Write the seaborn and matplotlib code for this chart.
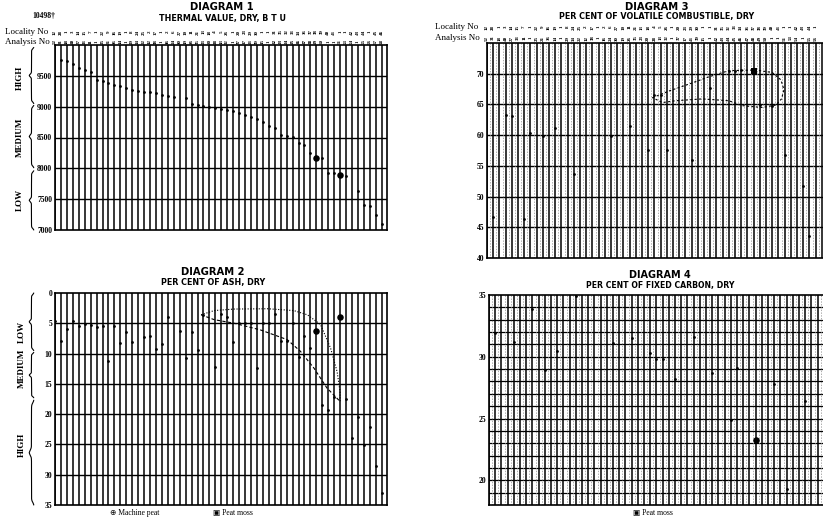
import numpy as np
import pandas as pd
import seaborn as sns
import matplotlib
matplotlib.use("Agg")
import matplotlib.pyplot as plt
from matplotlib import transforms

nan = np.nan

# one column per sample, same order in every diagram
columns = list(range(56))

thermal_btu = [10498, 9760, 9735, 9690, 9625, 9590, 9555, 9440, 9420, 9390,
               9355, 9335, 9300, 9275, 9260, 9245, 9230, 9215, 9190, 9175,
               9160, nan, 9140, 9045, 9030, 9010, 9000, 8975, 8960, 8945,
               8930, 8890, 8865, 8840, 8795, 8745, 8690, 8650, 8545, 8525,
               8515, 8410, 8380, 8245, 8175, 8175, 7925, 7920, 7900, 7870,
               nan, 7640, 7400, 7390, 7250, 7100]

ash_pct = [4.6, 7.9, 5.9, 4.6, 5.4, 5.2, 5.3, 5.6, 5.4, 11.3,
           5.4, 8.3, 6.4, 8.1, nan, 7.3, 7.1, 9.3, 8.4, 4.0,
           nan, 6.2, 10.7, 6.4, 9.4, 3.6, nan, 12.2, 3.5, 4.0,
           8.1, 5.0, 5.0, 5.0, 12.4, 5.0, 5.0, 3.5, 7.9, 7.9,
           4.9, 10.6, 7.1, 9.0, 6.2, 18.5, 19.3, 17.1, 4.0, 17.5,
           23.9, 20.5, 25.1, 22.2, 28.6, 33.0]

volatile_cols = [1, 3, 4, 6, 7, 9, 11, 14, 20, 23, 26, 27, 28, 29, 33, 36,
                 39, 40, 41, 43, 44, 46, 48, 51, 52]
volatile_pct = [46.7, 63.2, 63.1, 46.4, 60.4, 59.8, 61.2, 53.6, 59.8, 61.5,
                57.6, 66.6, 66.6, 57.6, 56.0, 67.6, 70.4, 70.5, 70.6, 70.5,
                64.9, 64.8, 56.8, 51.8, 43.6]

carbon_cols = [1, 4, 7, 9, 11, 14, 20, 23, 26, 27, 28, 30, 33, 36, 39, 40,
               43, 46, 48, 51]
carbon_pct = [31.9, 31.2, 33.9, 28.9, 30.5, 34.9, 31.1, 31.5, 30.3, 29.8,
              29.8, 28.2, 31.6, 28.7, 24.9, 29.1, 23.3, 27.8, 19.3, 26.4]

machine_peat_cols = [44, 48]
peat_moss_col_d3 = 43
peat_moss_col_d4 = 43

# hand drawn groupings (column, value)
ash_loop_upper_x = [24.6, 26.8, 30.2, 35.8, 40.2, 42.5, 44.7, 46.4, 47.5, 48.0, 48.0]
ash_loop_upper_y = [3.6, 2.9, 2.65, 2.6, 2.9, 3.6, 5.2, 9.1, 13.0, 16.3, 17.9]
ash_loop_lower_x = [24.6, 26.8, 30.2, 34.6, 39.1, 41.3, 43.6, 45.8, 47.5, 48.0]
ash_loop_lower_y = [3.6, 4.4, 5.0, 6.1, 7.7, 9.6, 12.4, 15.7, 17.4, 17.9]
vol_loop_x = [26.7, 29.4, 33.1, 35.8, 39.0, 43.3, 46.0, 47.4, 47.9, 47.5,
              46.6, 44.4, 41.2, 39.0, 34.7, 30.4, 28.3, 26.7]
vol_loop_y = [66.1, 67.2, 68.5, 69.5, 70.5, 70.6, 70.2, 69.0, 67.4, 65.9,
              64.9, 64.5, 64.8, 65.6, 65.9, 65.6, 65.3, 66.1]

locality_no = ["12", "28", "1", "3", "14", "15", "7", "1", "22", "9", "16", "19",
               "1", "8", "24", "25", "2", "17", "1", "2", "6", "27", "10", "11",
               "21", "13", "18", "4", "5", "26", "1", "20", "23", "29", "30", "1",
               "1", "31", "35", "32", "33", "34", "36", "37", "38", "39", "40", "41",
               "1", "1", "42", "43", "44", "1", "45", "46"]
analysis_no = ["52", "31", "18", "40", "27", "33", "11", "1", "25", "21", "36", "14",
               "1", "29", "34", "22", "12", "38", "1", "16", "24", "30", "19", "26",
               "35", "23", "20", "28", "13", "32", "1", "37", "17", "41", "39", "15",
               "1", "42", "43", "44", "45", "46", "47", "48", "49", "50", "1", "1",
               "51", "53", "54", "1", "55", "56", "57", "58"]

sns.set_theme(style="white")
plt.rcParams["font.family"] = ["Liberation Serif", "DejaVu Sans"]
plt.rcParams["text.color"] = "black"
plt.rcParams["ytick.color"] = "black"
plt.rcParams["xtick.color"] = "black"

W, H = 823, 521
fig = plt.figure(figsize=(W / 100, H / 100), dpi=100)


def fx(px):
    return px / W


def fy(py):
    return 1 - py / H


def make_axes(left, top, right, bottom):
    return fig.add_axes([fx(left), fy(bottom), fx(right - left), (bottom - top) / H])


def style_axes(ax, xmax, ylim, yticks, ygrid, lw_h=1.0):
    ax.set_xlim(0, xmax)
    ax.set_ylim(*ylim)
    ax.set_xticks(columns)
    ax.set_xticklabels([])
    ax.set_yticks(yticks)
    ax.set_yticklabels([str(t) for t in yticks], fontsize=5.5, fontweight="bold")
    ax.tick_params(axis="both", length=0, pad=2)
    ax.grid(False)
    for c in columns:
        ax.axvline(c, color="black", lw=1.1, zorder=1)
    for g in ygrid:
        ax.axhline(g, color="black", lw=lw_h, zorder=1)
    for sp in ax.spines.values():
        sp.set_color("black")
        sp.set_linewidth(1.2)
    ax.set_facecolor("white")


def draw_brace(ax, x_tip, x_end, y0, y1):
    t = np.linspace(0, 1, 300)
    half = np.minimum(t, 1 - t) * 2
    k = 45
    s1 = 1 / (1 + np.exp(-k * (half - 0.05)))
    s2 = 1 / (1 + np.exp(-k * (half - 0.95)))
    xs = x_end - (x_end - x_tip) * (s1 + s2) / 2
    ys = y0 + (y1 - y0) * t
    trans = transforms.blended_transform_factory(fig.transFigure, ax.transData)
    ax.plot(xs, ys, transform=trans, color="black", lw=0.8, clip_on=False)


def header_rows(ax, y_loc, y_ana, col_px0, col_step):
    tr = ax.get_xaxis_transform()
    for c in columns:
        # the right hand diagrams run off the page; skip numbers past the edge
        if col_px0 + c * col_step > W - 4:
            continue
        ax.text(c, y_loc, locality_no[c], transform=tr, rotation=90, fontsize=3.6,
                fontweight="bold", ha="center", va="center", clip_on=False)
        ax.text(c, y_ana, analysis_no[c], transform=tr, rotation=90, fontsize=3.6,
                fontweight="bold", ha="center", va="center", clip_on=False)


title_kw = dict(family="DejaVu Sans", fontweight="bold", ha="center", va="center")
side_kw = dict(rotation=90, fontsize=6.5, fontweight="bold", ha="center", va="center")

# ---------------- Diagram 1 ----------------
ax1 = make_axes(55, 45, 387, 230)
style_axes(ax1, 55.9, (7000, 10000), [7000, 7500, 8000, 8500, 9000, 9500],
           [7500, 8000, 8500, 9000, 9500])
d1 = pd.DataFrame({"col": columns, "val": thermal_btu})
sns.scatterplot(data=d1, x="col", y="val", ax=ax1, color="black", s=4,
                linewidth=0, zorder=3)
d1m = d1[d1["col"].isin(machine_peat_cols)]
sns.scatterplot(data=d1m, x="col", y="val", ax=ax1, color="black", s=22,
                linewidth=0, zorder=4)
ax1.set_xlabel("")
ax1.set_ylabel("")
header_rows(ax1, 1.070, 1.018, 55, 5.94)
fig.text(fx(222), fy(7), "DIAGRAM 1", fontsize=7.2, **title_kw)
fig.text(fx(222), fy(18), "THERMAL VALUE, DRY, B T U", fontsize=5.8, **title_kw)
fig.text(fx(55), fy(16), f"{thermal_btu[0]}†", fontsize=5.5, fontweight="bold",
         ha="right", va="center")
fig.text(fx(5), fy(32), "Locality No", fontsize=6.5, ha="left", va="center")
fig.text(fx(5), fy(42), "Analysis No", fontsize=6.5, ha="left", va="center")
draw_brace(ax1, fx(29), fx(34), 9050, 9960)
draw_brace(ax1, fx(29), fx(34), 8010, 9020)
draw_brace(ax1, fx(29), fx(34), 7000, 7960)
fig.text(fx(20), fy(78), "HIGH", **side_kw)
fig.text(fx(20), fy(137), "MEDIUM", **side_kw)
fig.text(fx(20), fy(200), "LOW", **side_kw)

# ---------------- Diagram 2 ----------------
ax2 = make_axes(55, 293, 387, 505)
style_axes(ax2, 55.9, (35, 0), [0, 5, 10, 15, 20, 25, 30, 35],
           [5, 10, 15, 20, 25, 30])
d2 = pd.DataFrame({"col": columns, "val": ash_pct})
sns.scatterplot(data=d2, x="col", y="val", ax=ax2, color="black", s=4,
                linewidth=0, zorder=3)
d2m = d2[d2["col"].isin(machine_peat_cols)]
sns.scatterplot(data=d2m, x="col", y="val", ax=ax2, color="black", s=22,
                linewidth=0, zorder=4)
sns.lineplot(x=ash_loop_upper_x, y=ash_loop_upper_y, sort=False, estimator=None,
             ax=ax2, color="black", lw=0.8, linestyle=(0, (1, 1.5)), zorder=4)
sns.lineplot(x=ash_loop_lower_x, y=ash_loop_lower_y, sort=False, estimator=None,
             ax=ax2, color="black", lw=0.8, linestyle=(0, (3, 2)), zorder=4)
ax2.set_xlabel("")
ax2.set_ylabel("")
fig.text(fx(213), fy(272), "DIAGRAM 2", fontsize=7.2, **title_kw)
fig.text(fx(213), fy(283), "PER CENT OF ASH, DRY", fontsize=5.8, **title_kw)
draw_brace(ax2, fx(29), fx(34), 0, 9.5)
draw_brace(ax2, fx(29), fx(34), 9.8, 17.3)
draw_brace(ax2, fx(29), fx(34), 17.7, 35)
fig.text(fx(22), fy(332), "LOW", **side_kw)
fig.text(fx(22), fy(368), "MEDIUM", **side_kw)
fig.text(fx(22), fy(445), "HIGH", **side_kw)
fig.text(fx(110), fy(513), "⊕ Machine peat", fontsize=5.5, ha="left", va="center")
fig.text(fx(213), fy(513), "▣ Peat moss", fontsize=5.5, ha="left", va="center")

# ---------------- Diagram 3 ----------------
ax3 = make_axes(487, 43, 487 + 55.9 * 6.2, 258)
style_axes(ax3, 55.9, (40, 75), [40, 45, 50, 55, 60, 65, 70],
           [45, 50, 55, 60, 65, 70])
for c in columns:
    ax3.axvline(c + 0.5, color="0.55", lw=0.5, linestyle=(0, (2, 2)), zorder=1)
d3 = pd.DataFrame({"col": volatile_cols, "val": volatile_pct})
sns.scatterplot(data=d3, x="col", y="val", ax=ax3, color="black", s=4,
                linewidth=0, zorder=3)
d3m = d3[d3["col"] == peat_moss_col_d3]
sns.scatterplot(data=d3m, x="col", y="val", ax=ax3, color="black", s=18,
                marker="s", linewidth=0, zorder=4)
sns.lineplot(x=vol_loop_x, y=vol_loop_y, sort=False, estimator=None, ax=ax3,
             color="black", lw=0.8, linestyle=(0, (2, 2)), zorder=4)
ax3.set_xlabel("")
ax3.set_ylabel("")
header_rows(ax3, 1.074, 1.023, 487, 6.2)
fig.text(fx(657), fy(7), "DIAGRAM 3", fontsize=7.2, **title_kw)
fig.text(fx(657), fy(17), "PER CENT OF VOLATILE COMBUSTIBLE, DRY", fontsize=5.8,
         **title_kw)
fig.text(fx(435), fy(27), "Locality No", fontsize=6.5, ha="left", va="center")
fig.text(fx(435), fy(38), "Analysis No", fontsize=6.5, ha="left", va="center")

# ---------------- Diagram 4 ----------------
ax4 = make_axes(489, 295, 489 + 55.9 * 6.2, 505)
style_axes(ax4, 55.9, (18, 35), [20, 25, 30, 35], list(range(19, 35)), lw_h=0.9)
for c in columns:
    ax4.axvline(c + 0.5, color="0.55", lw=0.5, linestyle=(0, (2, 2)), zorder=1)
d4 = pd.DataFrame({"col": carbon_cols, "val": carbon_pct})
sns.scatterplot(data=d4, x="col", y="val", ax=ax4, color="black", s=4,
                linewidth=0, zorder=3)
d4m = d4[d4["col"] == peat_moss_col_d4]
sns.scatterplot(data=d4m, x="col", y="val", ax=ax4, color="black", s=22,
                linewidth=0, zorder=4)
ax4.set_xlabel("")
ax4.set_ylabel("")
fig.text(fx(660), fy(275.5), "DIAGRAM 4", fontsize=7.0, **title_kw)
fig.text(fx(660), fy(285.5), "PER CENT OF FIXED CARBON, DRY", fontsize=5.6, **title_kw)
fig.text(fx(633), fy(513), "▣ Peat moss", fontsize=5.5, ha="left", va="center")

fig.savefig("out.png", dpi=100)
plt.close(fig)
